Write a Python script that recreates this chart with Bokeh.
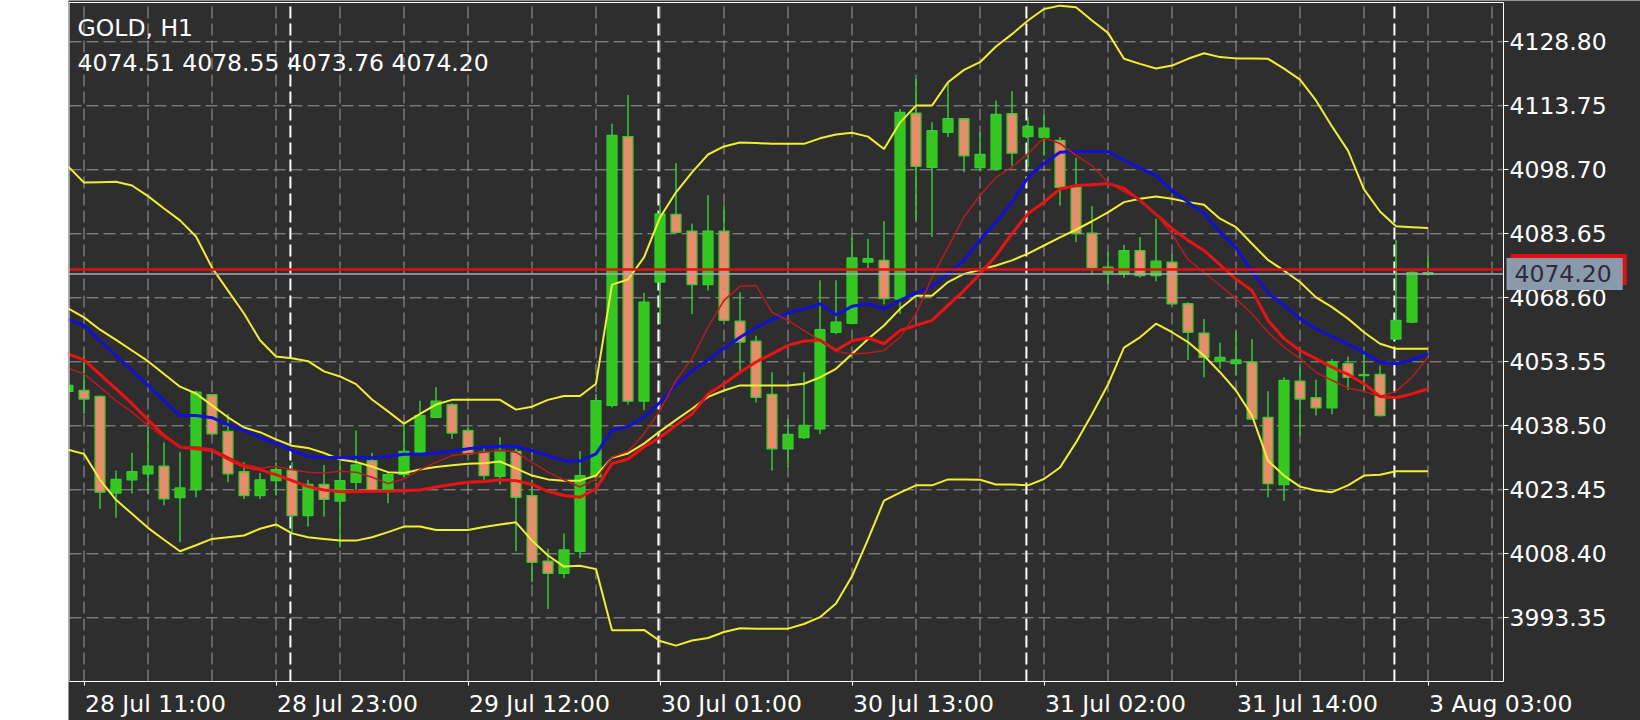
from bokeh.plotting import figure
from bokeh.models import (Range1d, FixedTicker, Label, Spacer,
                          PrintfTickFormatter, ColumnDataSource)
from bokeh.layouts import row
from bokeh.embed import file_html
from bokeh.resources import INLINE

# ---------------- data ----------------
symbol = "GOLD, H1"
bars = list(range(-1, 85))          # bar index; bar 0 = 28 Jul 11:00

opens = [4046.6, 4046.8, 4045.4, 4022.7, 4025.8, 4027.2, 4029.0, 4021.6, 4023.5, 4045.8,
         4037.2, 4027.7, 4022.1, 4025.6, 4028.0, 4017.4, 4024.7, 4020.8, 4025.2, 4030.3,
         4023.4, 4027.0, 4032.3, 4040.5, 4043.5, 4037.4, 4032.3, 4026.6, 4032.5, 4022.1,
         4006.7, 4003.8, 4009.0, 4026.5, 4043.3, 4106.5, 4044.3, 4072.3, 4088.2, 4084.3,
         4071.7, 4084.3, 4063.1, 4058.4, 4045.9, 4033.1, 4035.7, 4037.8, 4060.5, 4062.6,
         4077.0, 4077.4, 4068.3, 4112.0, 4099.3, 4107.5, 4110.7, 4099.2, 4098.9, 4111.9,
         4106.5, 4106.3, 4105.6, 4094.6, 4083.8, 4074.6, 4074.2, 4079.7, 4073.8, 4077.0,
         4067.2, 4060.3, 4053.7, 4053.1, 4053.5, 4040.5, 4024.7, 4049.0, 4045.1, 4042.7,
         4053.1, 4050.3, 4050.6, 4058.9, 4062.9, 4074.51]
highs = [4049.0, 4054.8, 4045.6, 4028.0, 4032.1, 4038.2, 4034.6, 4032.3, 4046.8, 4046.0,
         4041.3, 4029.9, 4027.4, 4029.9, 4029.9, 4025.8, 4029.3, 4030.3, 4037.4, 4032.1,
         4027.4, 4039.0, 4044.4, 4047.6, 4043.8, 4038.2, 4033.5, 4035.8, 4033.1, 4025.8,
         4009.6, 4013.2, 4032.5, 4046.0, 4109.5, 4116.3, 4069.7, 4090.3, 4100.3, 4086.1,
         4092.7, 4090.3, 4069.9, 4059.7, 4051.1, 4040.1, 4051.1, 4072.7, 4072.7, 4082.7,
         4082.5, 4086.6, 4113.0, 4120.1, 4109.9, 4119.3, 4110.9, 4107.5, 4115.0, 4117.2,
         4111.1, 4111.5, 4106.4, 4101.5, 4090.1, 4079.3, 4081.1, 4082.9, 4087.2, 4078.9,
         4067.6, 4063.6, 4058.0, 4060.7, 4058.9, 4046.6, 4049.9, 4052.3, 4049.3, 4054.2,
         4054.8, 4055.8, 4052.7, 4082.2, 4074.8, 4078.55]
lows = [4045.5, 4041.3, 4019.0, 4016.9, 4022.6, 4022.5, 4019.8, 4011.1, 4021.7, 4036.2,
        4025.2, 4021.3, 4021.3, 4022.1, 4013.5, 4014.8, 4017.2, 4009.9, 4023.3, 4023.0,
        4020.3, 4026.4, 4031.9, 4040.3, 4035.4, 4031.5, 4025.8, 4024.7, 4009.0, 4001.7,
        3995.4, 4002.7, 4007.4, 4025.5, 4042.8, 4043.5, 4042.2, 4062.5, 4083.8, 4064.8,
        4070.3, 4063.1, 4050.7, 4044.0, 4028.0, 4028.8, 4035.4, 4036.6, 4060.0, 4062.5,
        4075.6, 4067.0, 4064.8, 4086.8, 4082.9, 4106.4, 4098.1, 4098.5, 4098.5, 4099.7,
        4099.3, 4102.0, 4090.3, 4081.7, 4074.1, 4071.9, 4073.3, 4073.4, 4072.5, 4067.0,
        4054.0, 4049.9, 4051.9, 4050.3, 4039.9, 4021.7, 4020.9, 4036.2, 4040.9, 4041.2,
        4046.9, 4046.6, 4040.7, 4058.7, 4062.6, 4073.76]
closes = [4048.0, 4044.8, 4022.9, 4025.9, 4027.7, 4029.0, 4021.3, 4023.9, 4046.4, 4036.6,
          4027.2, 4022.1, 4025.8, 4028.2, 4017.4, 4024.7, 4021.2, 4025.6, 4029.3, 4023.3,
          4027.0, 4032.5, 4040.9, 4044.3, 4036.8, 4031.9, 4026.8, 4032.7, 4021.7, 4006.4,
          4003.8, 4009.3, 4026.8, 4044.4, 4106.8, 4044.3, 4067.6, 4088.3, 4084.0, 4071.7,
          4084.3, 4063.3, 4058.2, 4045.2, 4033.1, 4036.5, 4038.6, 4061.1, 4062.9, 4078.0,
          4077.8, 4068.4, 4112.2, 4099.5, 4107.9, 4110.7, 4102.0, 4102.3, 4111.7, 4102.6,
          4108.9, 4108.5, 4094.6, 4083.7, 4075.6, 4075.8, 4079.7, 4073.8, 4077.2, 4067.2,
          4060.5, 4054.6, 4054.6, 4054.0, 4040.1, 4024.9, 4049.2, 4044.8, 4042.7, 4053.5,
          4049.9, 4050.5, 4040.9, 4063.3, 4074.6, 4074.20]

bb_upper = [4099.5, 4095.7, 4095.8, 4095.9, 4095.0, 4092.5, 4089.6, 4086.8, 4083.0, 4075.7,
            4070.3, 4064.9, 4058.6, 4054.8, 4054.4, 4053.7, 4051.3, 4050.1, 4048.3, 4044.7,
            4041.9, 4039.0, 4041.3, 4043.5, 4044.6, 4044.6, 4044.6, 4044.6, 4042.3, 4043.0,
            4044.6, 4045.5, 4045.5, 4048.4, 4071.7, 4072.9, 4078.1, 4087.5, 4093.4, 4098.1,
            4102.3, 4104.2, 4105.1, 4105.0, 4104.8, 4104.8, 4104.8, 4106.1, 4107.0, 4107.4,
            4106.5, 4103.6, 4109.8, 4113.8, 4113.8, 4119.3, 4122.2, 4124.0, 4127.7, 4130.6,
            4133.8, 4136.5, 4137.3, 4136.9, 4133.8, 4130.9, 4124.8, 4123.6, 4122.5, 4123.2,
            4124.8, 4126.1, 4125.2, 4124.9, 4124.9, 4124.8, 4122.5, 4119.9, 4115.0, 4108.9,
            4103.2, 4094.1, 4088.9, 4085.4, 4085.2, 4085.0]
bb_middle = [4066.1, 4064.0, 4061.1, 4058.7, 4056.2, 4053.7, 4050.7, 4047.7, 4046.1, 4043.3,
             4040.5, 4038.1, 4037.0, 4035.3, 4033.8, 4033.3, 4032.1, 4030.6, 4030.0, 4028.9,
             4027.6, 4027.4, 4028.2, 4028.8, 4029.2, 4029.6, 4029.7, 4030.1, 4028.5, 4026.8,
             4025.9, 4025.6, 4025.6, 4026.8, 4031.0, 4032.0, 4034.3, 4037.2, 4039.9, 4042.5,
             4045.3, 4046.8, 4048.0, 4048.0, 4048.0, 4048.0, 4048.4, 4049.9, 4051.9, 4055.4,
             4058.9, 4062.1, 4066.0, 4069.1, 4069.1, 4072.3, 4074.2, 4075.2, 4076.2, 4077.4,
             4079.0, 4080.9, 4082.8, 4084.6, 4086.6, 4088.7, 4091.1, 4091.9, 4092.4, 4091.9,
             4091.1, 4090.5, 4087.2, 4085.2, 4081.3, 4077.5, 4075.0, 4072.3, 4068.7, 4066.4,
             4063.7, 4060.5, 4057.8, 4056.6, 4056.6, 4056.6]
bb_lower = [4032.9, 4031.9, 4025.8, 4021.1, 4017.8, 4014.5, 4011.7, 4009.0, 4010.4, 4011.9,
            4012.3, 4012.7, 4014.3, 4015.3, 4013.2, 4012.3, 4011.9, 4011.5, 4011.5, 4012.3,
            4013.5, 4014.8, 4014.8, 4014.0, 4014.0, 4014.0, 4014.7, 4015.3, 4015.8, 4011.5,
            4008.0, 4005.4, 4005.6, 4004.8, 3990.4, 3990.4, 3990.5, 3987.9, 3986.8, 3988.0,
            3988.6, 3990.0, 3990.9, 3990.8, 3990.8, 3990.8, 3991.9, 3993.5, 3996.7, 4003.1,
            4011.8, 4020.9, 4022.8, 4024.5, 4024.5, 4025.9, 4025.9, 4025.8, 4024.7, 4024.7,
            4024.5, 4026.0, 4028.7, 4034.6, 4041.2, 4048.2, 4056.9, 4059.3, 4062.5, 4060.5,
            4058.2, 4055.0, 4051.1, 4046.8, 4040.9, 4030.3, 4026.8, 4024.2, 4023.3, 4022.9,
            4024.5, 4026.8, 4027.0, 4027.8, 4027.8, 4027.8]
ma_blue = [4063.5, 4062.1, 4058.5, 4055.0, 4051.5, 4048.0, 4044.4, 4040.9, 4040.9, 4040.4,
           4038.8, 4037.4, 4035.8, 4034.4, 4032.7, 4031.3, 4031.1, 4031.0, 4031.1, 4031.0,
           4031.3, 4031.8, 4031.8, 4032.1, 4032.5, 4033.1, 4033.5, 4033.7, 4033.7, 4032.7,
           4031.5, 4030.3, 4030.2, 4031.9, 4037.5, 4038.3, 4040.5, 4044.0, 4048.1, 4051.4,
           4054.0, 4056.7, 4059.3, 4061.6, 4063.5, 4065.0, 4066.0, 4067.2, 4064.6, 4066.6,
           4067.2, 4066.0, 4068.0, 4069.7, 4071.3, 4074.2, 4077.4, 4082.1, 4086.4, 4091.0,
           4096.9, 4100.2, 4102.8, 4103.0, 4103.0, 4103.0, 4101.0, 4099.1, 4097.4, 4093.8,
           4091.1, 4088.4, 4084.0, 4080.4, 4074.7, 4069.8, 4066.8, 4063.7, 4061.3, 4059.5,
           4057.7, 4055.7, 4053.5, 4053.1, 4054.0, 4055.4]
ma_red_fast = [4052.1, 4050.7, 4047.6, 4044.4, 4041.7, 4038.6, 4035.8, 4033.5, 4033.5, 4033.1,
               4031.1, 4029.4, 4028.6, 4028.9, 4028.2, 4027.6, 4027.4, 4027.8, 4027.6, 4026.4,
               4024.9, 4026.0, 4028.2, 4029.9, 4031.5, 4031.9, 4032.3, 4032.7, 4032.3, 4029.9,
               4027.6, 4025.8, 4024.1, 4026.0, 4031.1, 4032.5, 4036.6, 4042.1, 4049.2, 4054.3,
               4061.7, 4068.0, 4071.3, 4071.5, 4065.2, 4063.3, 4060.9, 4058.6, 4056.0, 4055.4,
               4055.6, 4056.2, 4059.3, 4064.8, 4073.4, 4080.5, 4087.6, 4092.7, 4096.9, 4099.3,
               4102.5, 4106.2, 4104.9, 4102.1, 4099.7, 4095.7, 4093.6, 4091.5, 4088.3, 4083.6,
               4077.6, 4074.6, 4071.5, 4068.4, 4064.8, 4060.5, 4057.0, 4054.3, 4051.1, 4049.2,
               4047.4, 4046.6, 4045.4, 4046.6, 4049.9, 4054.6]
ma_red_slow = [4055.4, 4054.0, 4050.6, 4047.2, 4043.7, 4039.9, 4036.2, 4033.5, 4033.1, 4032.7,
               4030.7, 4028.9, 4028.2, 4027.0, 4025.6, 4024.2, 4023.4, 4023.0, 4023.0, 4023.1,
               4023.1, 4023.3, 4023.4, 4024.1, 4024.7, 4025.2, 4025.4, 4025.8, 4025.6, 4024.7,
               4023.1, 4022.1, 4021.7, 4023.7, 4029.6, 4030.7, 4033.5, 4035.8, 4038.6, 4041.3,
               4046.0, 4048.4, 4051.1, 4053.5, 4055.4, 4057.4, 4058.4, 4058.7, 4056.2, 4058.5,
               4059.2, 4057.8, 4060.9, 4062.1, 4063.3, 4066.8, 4070.3, 4074.2, 4078.5, 4083.7,
               4088.4, 4091.1, 4094.2, 4095.0, 4095.2, 4095.5, 4094.3, 4091.5, 4088.2, 4084.9,
               4082.1, 4079.7, 4076.4, 4073.0, 4070.3, 4063.3, 4059.0, 4056.2, 4054.3, 4052.3,
               4050.6, 4048.4, 4045.4, 4045.1, 4046.0, 4047.2]

tick_bars = [0, 12, 24, 36, 48, 60, 72, 84]
tick_labels = ["28 Jul 11:00", "28 Jul 23:00", "29 Jul 12:00", "30 Jul 01:00",
               "30 Jul 13:00", "31 Jul 02:00", "31 Jul 14:00", "3 Aug 03:00"]
grid_bars = list(range(0, 89, 4))
day_start_bars = [13, 36, 59, 82]
price_ticks = [4128.80, 4113.75, 4098.70, 4083.65, 4068.60,
               4053.55, 4038.50, 4023.45, 4008.40, 3993.35]
bid = 4074.20
ask = 4075.25

# ---------------- styles / layout ----------------
BG = "#2e2e2e"
FONT = "DejaVu Sans"
FS_PX = 23.5
FS = "%spx" % FS_PX
GREEN = "#32cd32"
BULL = "#33c81c"
BEAR = "#ec8a6a"
YELLOW = "#f0f032"
GRID = "#9a9a9a"

PX_PER_BAR = 16.0
PX_PER_PRICE = 4.2525
# chart area (inside the white frame) in data units
X_LEFT, X_RIGHT = -0.906, 88.72
Y_BOTTOM, Y_TOP = 3978.37, 4138.04
# advance widths (em) of DejaVu Sans, used to left-align time labels at their ticks
ADV = {"0": .636, "1": .636, "2": .636, "3": .636, "4": .636, "5": .636, "6": .636,
       "7": .636, "8": .636, "9": .636, " ": .318, "J": .295, "u": .634, "l": .278,
       ":": .337, "A": .684, "g": .635}


def text_width(s):
    return sum(ADV.get(ch, 0.6) for ch in s) * FS_PX


p = figure(frame_width=1572, frame_height=720, output_backend="svg", toolbar_location=None,
           x_range=Range1d(-0.96875, 97.28125), y_range=Range1d(3969.20, 4138.51),
           y_axis_location="right", min_border=0,
           background_fill_color=BG, border_fill_color=BG)
p.outline_line_color = None
p.xgrid.visible = False
p.ygrid.visible = False

# y axis drawn on the chart's right edge
p.yaxis.fixed_location = X_RIGHT
p.yaxis.bounds = (Y_BOTTOM, Y_TOP)
p.yaxis.ticker = FixedTicker(ticks=price_ticks)
p.yaxis.formatter = PrintfTickFormatter(format="%.2f")
p.yaxis.major_label_text_font = FONT
p.yaxis.major_label_text_font_size = FS
p.yaxis.major_label_text_color = "white"
p.yaxis.major_tick_out = 5
p.yaxis.major_tick_in = 0
p.yaxis.major_label_standoff = 1
p.yaxis.minor_tick_line_color = None
p.yaxis.axis_line_color = "white"
p.yaxis.major_tick_line_color = "white"

# x axis drawn on the chart's bottom edge; labels start at their tick marks
shifted = [round(b + (text_width(t) / 2 + 1) / PX_PER_BAR, 4) for b, t in zip(tick_bars, tick_labels)]
p.xaxis.fixed_location = Y_BOTTOM
p.xaxis.bounds = (-0.9375, X_RIGHT)
p.xaxis.ticker = FixedTicker(ticks=shifted, minor_ticks=tick_bars)
p.xaxis.major_label_overrides = {s: t for s, t in zip(shifted, tick_labels)}
p.xaxis.major_label_text_font = FONT
p.xaxis.major_label_text_font_size = FS
p.xaxis.major_label_text_color = "white"
p.xaxis.major_label_standoff = 4
p.xaxis.major_tick_line_color = None
p.xaxis.major_tick_out = 4
p.xaxis.major_tick_in = 0
p.xaxis.minor_tick_line_color = "white"
p.xaxis.minor_tick_out = 4
p.xaxis.minor_tick_in = 0
p.xaxis.axis_line_color = "white"

# grid
p.segment(x0=grid_bars, y0=[Y_BOTTOM] * len(grid_bars), x1=grid_bars, y1=[Y_TOP] * len(grid_bars),
          line_color=GRID, line_width=1, line_dash="12 5")
p.segment(x0=[X_LEFT] * len(price_ticks), y0=price_ticks, x1=[X_RIGHT] * len(price_ticks),
          y1=price_ticks, line_color=GRID, line_width=1, line_dash="12 5")

# day separators
sep_x = [b - 0.1 for b in day_start_bars]
p.segment(x0=sep_x, y0=[Y_BOTTOM] * len(sep_x), x1=sep_x, y1=[Y_TOP] * len(sep_x),
          line_color="white", line_width=2, line_dash="12 5")

# candles
tops = [max(o, c) for o, c in zip(opens, closes)]
bots = [min(o, c) for o, c in zip(opens, closes)]
fills = [BULL if c >= o else BEAR for o, c in zip(opens, closes)]
src = ColumnDataSource(dict(x=bars, h=highs, l=lows, top=tops, bottom=bots, fill=fills))
p.segment(x0="x", y0="l", x1="x", y1="h", source=src, line_color=GREEN, line_width=1.5)
p.vbar(x="x", width=0.62, top="top", bottom="bottom", source=src,
       fill_color="fill", line_color=GREEN, line_width=1.3)

# indicators
p.line(bars, bb_upper, line_color=YELLOW, line_width=2)
p.line(bars, bb_middle, line_color=YELLOW, line_width=2)
p.line(bars, bb_lower, line_color=YELLOW, line_width=2)
p.line(bars, ma_blue, line_color="#1010d8", line_width=3)
p.line(bars, ma_red_slow, line_color="#ee1111", line_width=3)
p.line(bars, ma_red_fast, line_color="#b81c1c", line_width=1.5)

# price lines
p.segment(x0=[X_LEFT], y0=[ask], x1=[X_RIGHT], y1=[ask], line_color="#e01010", line_width=2.5)
p.segment(x0=[X_LEFT], y0=[bid], x1=[X_RIGHT], y1=[bid], line_color="#a4acb8", line_width=1.5)

# white frame: left and top edges (right and bottom are the axis lines)
p.segment(x0=[-0.9375, -0.9375], y0=[Y_BOTTOM, Y_TOP], x1=[-0.9375, X_RIGHT], y1=[Y_TOP, Y_TOP],
          line_color="white", line_width=1)

# price labels on the right scale
label_x = X_RIGHT + 3 / PX_PER_BAR
p.add_layout(Label(x=label_x, y=ask, x_offset=4, text="%.2f" % ask, text_font=FONT,
                   text_font_size=FS, text_color="#e01010", text_baseline="middle",
                   text_align="left", background_fill_color="#e01010",
                   padding=(4, 15, 7, 7)))
p.add_layout(Label(x=label_x, y=bid, text="%.2f" % bid, text_font=FONT,
                   text_font_size=FS, text_color="#2c2c3a", text_baseline="middle",
                   text_align="left", background_fill_color="#8a9aab",
                   padding=(8, 11, 7, 8)))

# header text (vertically centred on the cap height of each line)
ohlc_text = " ".join("%.2f" % v for v in (opens[-1], highs[-1], lows[-1], closes[-1]))
head_x = -0.40
p.add_layout(Label(x=head_x, y=4138.51 - 27.3 / PX_PER_PRICE, text=symbol, text_font=FONT,
                   text_font_size=FS, text_color="white", text_baseline="middle"))
p.add_layout(Label(x=head_x, y=4138.51 - 62.7 / PX_PER_PRICE, text=ohlc_text, text_font=FONT,
                   text_font_size=FS, text_color="white", text_baseline="middle"))

layout = row(Spacer(width=68, height=720), p)
html = file_html(layout, INLINE, title=symbol)
html = html.replace("<head>", "<head>\n<style>html,body{margin:0;padding:0;overflow:hidden;background:#ffffff;}</style>", 1)
open("out.html", "w").write(html)
